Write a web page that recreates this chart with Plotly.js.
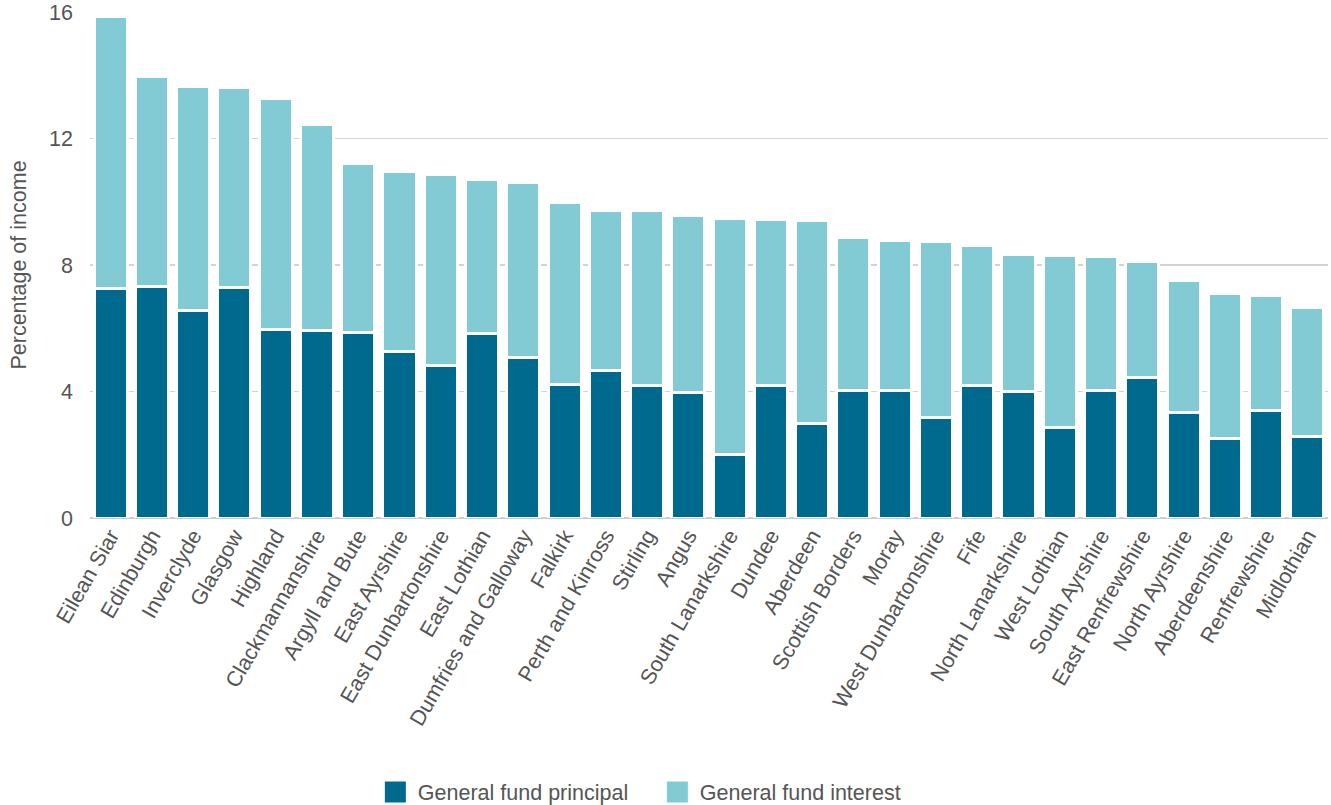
<!DOCTYPE html>
<html>
<head>
<meta charset="utf-8">
<script src="https://cdn.plot.ly/plotly-3.0.1.min.js"></script>
<style>html,body{margin:0;padding:0;background:#fff;}#chart{width:1331px;height:805px;}</style>
</head>
<body>
<div id="chart"></div>
<script>
const councils = ["Eilean Siar","Edinburgh","Inverclyde","Glasgow","Highland","Clackmannanshire","Argyll and Bute","East Ayrshire","East Dunbartonshire","East Lothian","Dumfries and Galloway","Falkirk","Perth and Kinross","Stirling","Angus","South Lanarkshire","Dundee","Aberdeen","Scottish Borders","Moray","West Dunbartonshire","Fife","North Lanarkshire","West Lothian","South Ayrshire","East Renfrewshire","North Ayrshire","Aberdeenshire","Renfrewshire","Midlothian"];
const principal = [7.25,7.33,6.55,7.29,5.97,5.93,5.85,5.26,4.83,5.82,5.07,4.22,4.66,4.20,3.96,2.02,4.19,2.98,4.04,4.02,3.19,4.19,4.01,2.85,4.04,4.45,3.34,2.52,3.39,2.58];
const interest = [8.62,6.62,7.10,6.31,7.28,6.52,5.35,5.69,6.02,4.87,5.55,5.75,5.06,5.52,5.62,7.44,5.24,6.42,4.82,4.74,5.55,4.43,4.32,5.45,4.23,3.66,4.17,4.58,3.65,4.08];
const seriesNames = ["General fund principal","General fund interest"];
const seriesColors = ["#006a8e","#82cbd4"];
const yTicks = [0,4,8,12,16];

const FONT = "Liberation Sans, Arial, sans-serif";
const FS = 21.5;
const traces = [
  {type:"bar", x:councils, y:principal, name:seriesNames[0], legendgroup:"p", showlegend:false,
   marker:{color:seriesColors[0], line:{color:"#ffffff", width:3}}, hoverinfo:"x+y"},
  {type:"bar", x:councils, y:interest, name:seriesNames[1], legendgroup:"i", showlegend:false,
   marker:{color:seriesColors[1], line:{color:"#ffffff", width:3}}, hoverinfo:"x+y"},
  {type:"scatter", mode:"markers", x:[councils[0]], y:[null], name:seriesNames[0], legendgroup:"p", showlegend:true,
   marker:{symbol:"square", size:16, color:seriesColors[0], line:{color:seriesColors[0], width:7}}},
  {type:"scatter", mode:"markers", x:[councils[0]], y:[null], name:seriesNames[1], legendgroup:"i", showlegend:true,
   marker:{symbol:"square", size:16, color:seriesColors[1], line:{color:seriesColors[1], width:7}}}
];
const layout = {
  width:1331, height:805,
  margin:{l:90, r:3, t:12, b:287},
  barmode:"stack", bargap:0.2,
  paper_bgcolor:"#ffffff", plot_bgcolor:"#ffffff",
  font:{family:FONT, size:FS, color:"#555555"},
  showlegend:true,
  legend:{orientation:"h", xref:"container", yref:"container", x:0.492, xanchor:"center", y:0.016, yanchor:"middle",
          itemwidth:35, entrywidth:232, font:{family:FONT, size:FS, color:"#555555"}, itemclick:false, itemdoubleclick:false},
  xaxis:{type:"category", range:[-0.5, councils.length-0.5], tickangle:-60, tickfont:{family:FONT, size:FS, color:"#555555"},
         showgrid:false, showline:false, ticks:"", automargin:false},
  yaxis:{range:[0,16], tickvals:yTicks, ticktext:yTicks.map(String), showgrid:true, gridcolor:"#d3d3d3", gridwidth:1.3,
         zeroline:true, zerolinecolor:"#cccccc", zerolinewidth:2.5, showline:false, ticks:"", ticklabelstandoff:16,
         tickfont:{family:FONT, size:FS, color:"#555555"}, automargin:false,
         title:{text:"Percentage of income", font:{family:FONT, size:FS, color:"#555555"}, standoff:16}}
};
Plotly.newPlot("chart", traces, layout, {displayModeBar:false, staticPlot:true});
</script>
</body>
</html>
